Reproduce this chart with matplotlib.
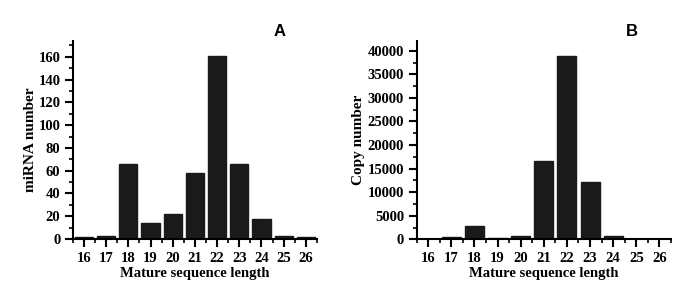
import matplotlib
matplotlib.use('Agg')
import matplotlib.pyplot as plt
from matplotlib.ticker import MultipleLocator

lengths = [16, 17, 18, 19, 20, 21, 22, 23, 24, 25, 26]
mirna_number = [2, 3, 66, 14, 22, 58, 161, 66, 18, 3, 2]
copy_number = [60, 430, 2900, 300, 600, 16700, 39000, 12200, 650, 40, 30]

plt.rcParams['font.family'] = ['Liberation Serif', 'DejaVu Serif']
plt.rcParams['font.weight'] = 'bold'

fig = plt.figure(figsize=(6.91, 2.88), dpi=100)
ax1 = fig.add_axes([0.1056, 0.170, 0.353, 0.688])
ax2 = fig.add_axes([0.603, 0.169, 0.368, 0.689])

panels = [
    (ax1, mirna_number, 'miRNA number', 'A', (0, 174), 20, 10, -0.147),
    (ax2, copy_number, 'Copy number', 'B', (0, 42100), 5000, 2500, -0.205),
]

for ax, vals, ylab, tag, ylim, major, minor, ylx in panels:
    ax.bar(lengths, vals, width=0.82, color='#1a1a1a', edgecolor='#1a1a1a')
    ax.set_xlim(15.5, 26.5)
    ax.set_ylim(*ylim)
    ax.set_xticks(lengths)
    ax.xaxis.set_minor_locator(MultipleLocator(0.5))
    ax.yaxis.set_major_locator(MultipleLocator(major))
    ax.yaxis.set_minor_locator(MultipleLocator(minor))
    for s in ['top', 'right']:
        ax.spines[s].set_visible(False)
    for s in ['left', 'bottom']:
        ax.spines[s].set_linewidth(1.5)
    ax.tick_params(which='major', direction='out', length=6, width=1.5, labelsize=10.5, pad=3)
    ax.tick_params(which='minor', direction='out', length=3, width=1.2)
    for lbl in ax.get_xticklabels() + ax.get_yticklabels():
        lbl.set_fontweight('bold')
    ax.set_xlabel('Mature sequence length', fontsize=10.5, fontweight='bold')
    ax.set_ylabel(ylab, fontsize=11, fontweight='bold')
    ax.xaxis.set_label_coords(0.5, -0.141)
    ax.yaxis.set_label_coords(ylx, 0.5)
    ax.text(0.845, 1.045, tag, transform=ax.transAxes, fontsize=12, fontweight='bold',
            family='Liberation Sans', ha='center', va='center')

fig.savefig('out.png', dpi=100)
